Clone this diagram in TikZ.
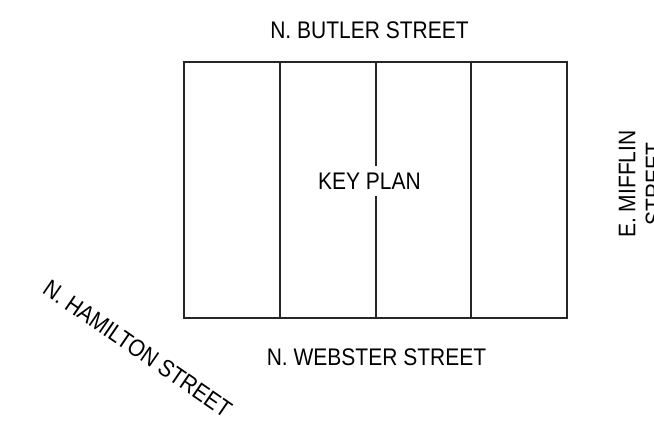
\documentclass[tikz,border=0pt]{standalone}
\usepackage{fontspec}
\setmainfont[FakeStretch=0.875]{Liberation Sans}
\tikzset{
  plan/.style={draw=black!85,line width=0.9pt},
  lbl/.style={inner sep=0pt,font=\fontsize{18}{20}\selectfont,text=black},
}
\begin{document}
\begin{tikzpicture}[x=0.75pt,y=-0.75pt]
\useasboundingbox (0,0) rectangle (654,424);
\clip (0,0) rectangle (654,424);
\draw[plan] (184,62) rectangle (567,318);
\draw[plan] (280,62) -- (280,318);
\draw[plan] (376,62) -- (376,318);
\draw[plan] (471,62) -- (471,318);
\node[lbl,fill=white,inner ysep=4.9pt,inner xsep=3pt] (key) at (369.5,181) {KEY PLAN};
\node[lbl] (butler) at (369.5,30.5) {N. BUTLER STREET};
\node[lbl] (webster) at (376.5,357) {N. WEBSTER STREET};
\node[lbl,rotate=-34.5] (hamilton) at (137.5,349) {N. HAMILTON STREET};
\node[lbl,rotate=90] (mifflin) at (627,184) {E. MIFFLIN};
\node[lbl,rotate=90] (street) at (654,184) {STREET};
\end{tikzpicture}
\end{document}
